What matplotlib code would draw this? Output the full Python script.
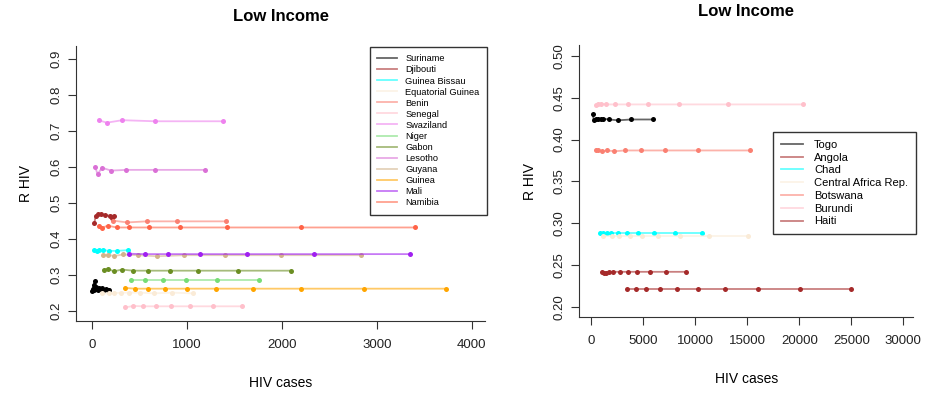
import matplotlib
matplotlib.use("Agg")
import matplotlib.pyplot as plt
from matplotlib.lines import Line2D

plt.rcParams['font.family'] = ['Liberation Sans', 'DejaVu Sans']

# ---- Left panel data (HIV cases, R HIV) ----
left_names = ["Suriname", "Djibouti", "Guinea Bissau", "Equatorial Guinea", "Benin",
              "Senegal", "Swaziland", "Niger", "Gabon", "Lesotho", "Guyana",
              "Guinea", "Mali", "Namibia"]
left_colors = ["black", "#A52A2A", "cyan", "#FAEBD7", "#FA8072", "#FFC0CB", "#EE82EE",
               "#77DD77", "#6B8E23", "#DA70D6", "#D2B48C", "#FFA500", "#A020F0", "#FF6347"]

suriname_x = [30, 20, 10, 5, 25, 40, 50, 65, 80, 95, 110, 130, 150, 170, 185]
suriname_r = [0.283, 0.272, 0.262, 0.255, 0.258, 0.268, 0.261, 0.257, 0.265, 0.260,
              0.263, 0.258, 0.262, 0.259, 0.258]
djibouti_x = [28, 42, 69, 98, 140, 193, 238, 214]
djibouti_r = [0.444, 0.465, 0.469, 0.469, 0.466, 0.465, 0.464, 0.457]
gbissau_x = [27, 52, 77, 122, 182, 263, 382]
gbissau_r = [0.370, 0.368, 0.369, 0.369, 0.367, 0.367, 0.369]
eqguinea_x = [105, 185, 238, 305, 393, 508, 656, 842, 1070]
eqguinea_r = [0.249, 0.249, 0.249, 0.251, 0.251, 0.251, 0.249, 0.251, 0.249]
benin_x = [227, 371, 579, 895, 1411]
benin_r = [0.451, 0.446, 0.449, 0.449, 0.449]
senegal_x = [354, 438, 540, 674, 832, 1035, 1280, 1579]
senegal_r = [0.210, 0.214, 0.213, 0.213, 0.213, 0.213, 0.213, 0.213]
swaziland_x = [74, 158, 322, 663, 1379]
swaziland_r = [0.730, 0.723, 0.730, 0.727, 0.727]
niger_x = [414, 561, 747, 989, 1319, 1756]
niger_r = [0.286, 0.286, 0.286, 0.286, 0.286, 0.286]
gabon_x = [126, 168, 232, 316, 438, 596, 821, 1119, 1543, 2101]
gabon_r = [0.314, 0.318, 0.310, 0.315, 0.312, 0.312, 0.312, 0.312, 0.312, 0.312]
lesotho_x = [35, 63, 108, 203, 365, 663, 1193]
lesotho_r = [0.600, 0.580, 0.598, 0.590, 0.592, 0.592, 0.592]
guyana_x = [119, 168, 238, 333, 484, 687, 975, 1400, 1989, 2838]
guyana_r = [0.356, 0.356, 0.353, 0.357, 0.355, 0.352, 0.355, 0.355, 0.355, 0.355]
guinea_x = [354, 456, 596, 775, 1000, 1305, 1698, 2203, 2866, 3726]
guinea_r = [0.264, 0.262, 0.262, 0.262, 0.262, 0.262, 0.262, 0.262, 0.262, 0.262]
mali_x = [389, 561, 800, 1140, 1635, 2343, 3354]
mali_r = [0.359, 0.358, 0.358, 0.358, 0.358, 0.358, 0.358]
namibia_x = [77, 108, 168, 263, 393, 606, 933, 1427, 2204, 3400]
namibia_r = [0.437, 0.431, 0.437, 0.432, 0.432, 0.432, 0.432, 0.432, 0.432, 0.432]

left_x = [suriname_x, djibouti_x, gbissau_x, eqguinea_x, benin_x, senegal_x, swaziland_x,
          niger_x, gabon_x, lesotho_x, guyana_x, guinea_x, mali_x, namibia_x]
left_r = [suriname_r, djibouti_r, gbissau_r, eqguinea_r, benin_r, senegal_r, swaziland_r,
          niger_r, gabon_r, lesotho_r, guyana_r, guinea_r, mali_r, namibia_r]

# ---- Right panel data ----
right_names = ["Togo", "Angola", "Chad", "Central Africa Rep.", "Botswana", "Burundi", "Haiti"]
right_colors = ["black", "#A52A2A", "cyan", "#FAEBD7", "#FA8072", "#FFC0CB", "#A52A2A"]

togo_x = [130, 260, 452, 673, 904, 1096, 1731, 2567, 3817, 5904]
togo_r = [0.430, 0.423, 0.424, 0.424, 0.424, 0.425, 0.424, 0.423, 0.424, 0.424]
angola_x = [1000, 1221, 1413, 1731, 2115, 2760, 3500, 4423, 5615, 7183, 9077]
angola_r = [0.242, 0.241, 0.241, 0.242, 0.242, 0.242, 0.242, 0.242, 0.242, 0.242, 0.242]
chad_x = [837, 1154, 1481, 1894, 2567, 3404, 4519, 6000, 8019, 10673]
chad_r = [0.288] * 10
car_x = [1154, 2019, 2692, 3721, 4846, 6385, 8529, 11346, 15038]
car_r = [0.285] * 9
botswana_x = [420, 673, 1000, 1538, 2212, 3240, 4779, 7087, 10288, 15288]
botswana_r = [0.388, 0.387, 0.386, 0.387, 0.386, 0.387, 0.387, 0.387, 0.387, 0.387]
burundi_x = [420, 615, 933, 1442, 2308, 3500, 5452, 8433, 13144, 20337]
burundi_r = [0.441, 0.443, 0.443, 0.442, 0.442, 0.442, 0.442, 0.442, 0.442, 0.442]
haiti_x = [3404, 4269, 5288, 6635, 8269, 10288, 12885, 16058, 20100, 25000]
haiti_r = [0.221] * 10

right_x = [togo_x, angola_x, chad_x, car_x, botswana_x, burundi_x, haiti_x]
right_r = [togo_r, angola_r, chad_r, car_r, botswana_r, burundi_r, haiti_r]


def style_axes(ax):
    for s in ["top", "right"]:
        ax.spines[s].set_visible(False)
    for s in ["left", "bottom"]:
        ax.spines[s].set_color("#333333")
    ax.tick_params(length=6, color="#333333", labelsize=9.5, labelcolor="#222222")
    ax.tick_params(axis="x", pad=7)
    ax.tick_params(axis="y", pad=4)
    for lab in ax.get_yticklabels():
        lab.set_rotation(90)
        lab.set_va("center")
    ax.set_xlabel("HIV cases", fontsize=10, labelpad=18)
    ax.set_ylabel("R HIV", fontsize=10, labelpad=12)


def draw_series(ax, xs, rs, colors):
    for x, r, c in zip(xs, rs, colors):
        ax.plot(x, r, color=c, lw=1.3, alpha=0.6)
        ax.plot(x, r, 'o', color=c, ms=3.6, mec='none')


fig = plt.figure(figsize=(9.26, 3.94), dpi=100)

ax1 = fig.add_axes([0.0821, 0.1860, 0.4417, 0.6972])
draw_series(ax1, left_x, left_r, left_colors)
ax1.set_xlim(-165, 4140)
ax1.set_ylim(0.173, 0.936)
ax1.set_xticks([0, 1000, 2000, 3000, 4000])
ax1.set_yticks([0.2, 0.3, 0.4, 0.5, 0.6, 0.7, 0.8, 0.9])
ax1.set_yticklabels(["0.2", "0.3", "0.4", "0.5", "0.6", "0.7", "0.8", "0.9"])
style_axes(ax1)
ax1.set_title("Low Income", fontsize=12, fontweight="bold", pad=18)

h1 = [Line2D([], [], color=c, lw=1.3, alpha=0.6) for c in left_colors]
leg1 = fig.legend(h1, left_names, loc="upper left", bbox_to_anchor=(370 / 926, 1 - 47 / 394),
                  fontsize=6.7, frameon=True, fancybox=False, edgecolor="black",
                  handlelength=2.1, handletextpad=0.9, labelspacing=0.22, borderpad=0.8,
                  borderaxespad=0)
leg1.get_frame().set_linewidth(1.0)

ax2 = fig.add_axes([0.6256, 0.1954, 0.3604, 0.6904])
draw_series(ax2, right_x, right_r, right_colors)
ax2.set_xlim(-1154, 30933)
ax2.set_ylim(0.188, 0.513)
ax2.set_xticks([0, 5000, 10000, 15000, 20000, 25000, 30000])
ax2.set_yticks([0.20, 0.25, 0.30, 0.35, 0.40, 0.45, 0.50])
ax2.set_yticklabels(["0.20", "0.25", "0.30", "0.35", "0.40", "0.45", "0.50"])
style_axes(ax2)
ax2.set_title("Low Income", fontsize=12, fontweight="bold", pad=21)

h2 = [Line2D([], [], color=c, lw=1.3, alpha=0.6) for c in right_colors]
leg2 = fig.legend(h2, right_names, loc="upper left", bbox_to_anchor=(773 / 926, 1 - 132 / 394),
                  fontsize=8, frameon=True, fancybox=False, edgecolor="black",
                  handlelength=2.0, handletextpad=1.0, labelspacing=0.25, borderpad=0.7,
                  borderaxespad=0)
leg2.get_frame().set_linewidth(1.0)

fig.savefig("out.png", dpi=100)
